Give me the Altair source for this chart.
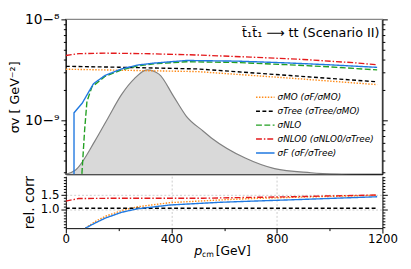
import altair as alt
import pandas as pd

# ---------------- data ----------------
series_names = ["σMO (σF/σMO)", "σTree (σTree/σMO)", "σNLO", "σNLO0 (σNLO0/σTree)", "σF (σF/σTree)"]
series_colors = ["#ff8c1a", "#000000", "#22a022", "#e41a1c", "#1f78e0"]
series_dashes = [[1.5, 1.5], [4, 2.5], [6, 2.5], [6, 2, 1.5, 2], [1, 0]]

p_mo = [0, 200, 500, 850, 1180]
v_mo = [3.20e-9, 3.13e-9, 3.03e-9, 2.61e-9, 2.25e-9]
p_tree = [0, 200, 500, 850, 1180]
v_tree = [3.42e-9, 3.35e-9, 3.22e-9, 2.77e-9, 2.40e-9]
p_nlo = [57, 71, 80, 99, 149, 211, 272, 334, 458, 650, 836, 1000, 1180]
v_nlo = [2.0e-10, 7.8e-10, 1.53e-9, 2.14e-9, 2.72e-9, 3.15e-9, 3.45e-9, 3.62e-9, 3.80e-9, 3.73e-9, 3.55e-9, 3.38e-9, 3.15e-9]
p_nlo0 = [0, 50, 150, 300, 500, 700, 900, 1100, 1180]
v_nlo0 = [4.38e-9, 4.57e-9, 4.62e-9, 4.57e-9, 4.43e-9, 4.22e-9, 4.00e-9, 3.70e-9, 3.54e-9]
p_f = [31, 31, 62, 87, 105, 149, 211, 272, 334, 458, 650, 836, 1000, 1180]
v_f = [2.0e-10, 1.18e-9, 1.47e-9, 1.91e-9, 2.30e-9, 2.78e-9, 3.22e-9, 3.52e-9, 3.68e-9, 3.91e-9, 3.85e-9, 3.70e-9, 3.54e-9, 3.34e-9]

p_dist = [0, 37, 111, 160, 211, 260, 308, 353, 409, 457, 520, 557, 680, 791, 929, 1200]
v_dist = [2.9e-10, 3.2e-10, 6.25e-10, 1.05e-9, 1.79e-9, 2.58e-9, 3.15e-9, 2.86e-9, 1.71e-9, 1.09e-9,
          7.8e-10, 6.5e-10, 4.2e-10, 3.3e-10, 3.0e-10, 2.8e-10]
dist_floor = 1e-10

r_p_mo = [74, 110, 149, 211, 272, 396, 582, 705, 900, 1180]
r_mo = [0.35, 0.57, 0.75, 0.95, 1.08, 1.22, 1.31, 1.36, 1.41, 1.47]
r_p_tree = [0, 1180]
r_tree = [1.03, 1.03]
r_p_nlo0 = [0, 48, 200, 520, 850, 1180]
r_nlo0 = [1.27, 1.36, 1.37, 1.37, 1.42, 1.48]
r_p_f = [74, 110, 149, 211, 272, 396, 582, 705, 900, 1180]
r_f = [0.35, 0.52, 0.69, 0.89, 1.01, 1.14, 1.23, 1.27, 1.33, 1.42]

y_top_ticks = [3e-10, 4e-10, 5e-10, 6e-10, 7e-10, 8e-10, 9e-10, 1e-9, 2e-9, 3e-9, 4e-9,
               5e-9, 6e-9, 7e-9, 8e-9, 9e-9, 1e-8]
y_bot_ticks = [round(0.4 + 0.1 * i, 1) for i in range(18)]
x_ticks = list(range(0, 1201, 100))
annotation = "t̃₁t̃₁ ⟶ tt (Scenario II)"

# ---------------- tables ----------------
def long(ps, vs, name):
    return pd.DataFrame({"p": ps, "value": vs, "series": name, "idx": range(len(ps))})

top_df = pd.concat([long(p_mo, v_mo, series_names[0]), long(p_tree, v_tree, series_names[1]),
                    long(p_nlo, v_nlo, series_names[2]), long(p_nlo0, v_nlo0, series_names[3]),
                    long(p_f, v_f, series_names[4])])
dist_df = pd.DataFrame({"p": p_dist, "value": v_dist, "base": dist_floor})
bot_df = pd.concat([long(r_p_mo, r_mo, series_names[0]), long(r_p_tree, r_tree, series_names[1]),
                    long(r_p_nlo0, r_nlo0, series_names[3]), long(r_p_f, r_f, series_names[4])])

W, HT, HB = 323, 158, 53
FONT = "DejaVu Sans"

color_scale = alt.Scale(domain=series_names, range=series_colors)
dash_scale = alt.Scale(domain=series_names, range=series_dashes)
xscale = alt.Scale(domain=[0, 1200], nice=False, zero=False)
ytop_scale = alt.Scale(type="log", domain=[2.9e-10, 1e-8], nice=False)
ybot_scale = alt.Scale(domain=[0.35, 2.12], nice=False, zero=False)

decade = "abs(log(datum.value)/LN10 - round(log(datum.value)/LN10)) < 0.01"
sup = "replace(replace(replace(format(round(log(datum.value)/LN10),'d'),'-','⁻'),'8','⁸'),'9','⁹')"

legend = alt.Legend(title=None, orient="none", legendX=196, legendY=72, symbolType="M-1.4,0H1.4",
                    symbolSize=182, symbolStrokeWidth=1.4, labelFontSize=9, labelFontStyle="italic",
                    labelFont=FONT, rowPadding=1.2, labelOffset=5, symbolOffset=0, padding=0,
                    labelLimit=200)

x_top = alt.X("p:Q", scale=xscale, axis=alt.Axis(labels=False, ticks=False, title=None, grid=False,
                                                domainColor="black", domainWidth=1.2))

top_axis_left = alt.Axis(values=y_top_ticks, labelExpr=f"{decade} ? '10' + {sup} : ''",
                         tickSize={"condition": {"test": decade, "value": 5}, "value": 2.5},
                         tickColor="black", domainColor="black", grid=False, labelFontSize=14,
                         labelFont=FONT, labelColor="black", labelPadding=2,
                         title="σv [ GeV⁻²]", titleFont=FONT, titleFontSize=13,
                         titleFontWeight="normal", titleColor="black", titlePadding=3)
top_axis_right = alt.Axis(orient="right", values=y_top_ticks, labels=False,
                          tickSize={"condition": {"test": decade, "value": 5}, "value": 2.5},
                          tickColor="black", domainColor="black", grid=False, title=None)

area = alt.Chart(dist_df).mark_area(clip=True, color="#d9d9d9", opacity=1, interpolate="monotone").encode(
    x=x_top, y=alt.Y("value:Q", scale=ytop_scale, axis=top_axis_left), y2="base:Q")
area_line = alt.Chart(dist_df).mark_line(clip=True, color="#808080", strokeWidth=1.2,
                                         interpolate="monotone").encode(
    x=alt.X("p:Q", scale=xscale), y=alt.Y("value:Q", scale=ytop_scale, axis=top_axis_right))
lines_top = alt.Chart(top_df).mark_line(clip=True, strokeWidth=1.4).encode(
    x=alt.X("p:Q", scale=xscale),
    y=alt.Y("value:Q", scale=ytop_scale, axis=None),
    color=alt.Color("series:N", scale=color_scale, legend=legend),
    strokeDash=alt.StrokeDash("series:N", scale=dash_scale, legend=legend),
    order="idx:Q")
ann = alt.Chart(pd.DataFrame({"t": [annotation]})).mark_text(
    align="right", baseline="alphabetic", fontSize=13, font=FONT, color="black").encode(
    x=alt.value(320), y=alt.value(18), text="t:N")

top = alt.layer(area, area_line, lines_top, ann).resolve_axis(y="independent").properties(
    width=W, height=HT, view=alt.ViewBackground(stroke="#888888", strokeWidth=1.5))

# ---------------- bottom panel ----------------
x_bot_axis = alt.Axis(values=x_ticks, labelExpr="datum.value % 400 == 0 ? datum.label : ''",
                      tickSize={"condition": {"test": "datum.value % 400 == 0", "value": 5}, "value": 2.5},
                      tickColor="black", domainColor="black", labelFontSize=12, labelFont=FONT,
                      labelColor="black", labelPadding=1, labelFlush=False, format="d",
                      grid=True, gridDash=[2, 2], gridColor="#cccccc",
                      gridOpacity={"condition": {"test": "datum.value == 400 || datum.value == 800", "value": 1}, "value": 0},
                      title=None)
ymaj = "abs(datum.value - 1.0) < 0.01 || abs(datum.value - 1.5) < 0.01"
y_bot_axis = alt.Axis(values=y_bot_ticks, labelExpr=f"{ymaj} ? format(datum.value, '.1f') : ''",
                      tickSize={"condition": {"test": ymaj, "value": 5}, "value": 2.5},
                      tickColor="black", domainColor="black", labelFontSize=12, labelFont=FONT,
                      labelColor="black", labelPadding=2,
                      grid=True, gridDash=[2, 2], gridColor="#cccccc",
                      gridOpacity={"condition": {"test": ymaj, "value": 1}, "value": 0},
                      title="rel. corr", titleFont=FONT, titleFontSize=14, titleFontWeight="normal",
                      titleColor="black", titlePadding=4)
y_bot_right = alt.Axis(orient="right", values=y_bot_ticks, labels=False,
                       tickSize={"condition": {"test": ymaj, "value": 5}, "value": 2.5},
                       tickColor="black", domainColor="black", grid=False, title=None)

lines_bot = alt.Chart(bot_df).mark_line(clip=True, strokeWidth=1.4).encode(
    x=alt.X("p:Q", scale=xscale, axis=x_bot_axis),
    y=alt.Y("value:Q", scale=ybot_scale, axis=y_bot_axis),
    color=alt.Color("series:N", scale=color_scale, legend=None),
    strokeDash=alt.StrokeDash("series:N", scale=dash_scale, legend=None),
    order="idx:Q")
right_bot = alt.Chart(pd.DataFrame({"p": [0], "value": [1.0]})).mark_point(opacity=0).encode(
    x=alt.X("p:Q", scale=xscale), y=alt.Y("value:Q", scale=ybot_scale, axis=y_bot_right))

xt_p = alt.Chart(pd.DataFrame({"t": ["p"]})).mark_text(
    align="left", baseline="alphabetic", fontSize=13, fontStyle="italic", font=FONT, color="black").encode(
    x=alt.value(131), y=alt.value(80), text="t:N")
xt_cm = alt.Chart(pd.DataFrame({"t": ["cm"]})).mark_text(
    align="left", baseline="alphabetic", fontSize=8, font=FONT, color="black").encode(
    x=alt.value(139), y=alt.value(82), text="t:N")
xt_gev = alt.Chart(pd.DataFrame({"t": ["[GeV]"]})).mark_text(
    align="left", baseline="alphabetic", fontSize=12.5, font=FONT, color="black").encode(
    x=alt.value(153), y=alt.value(80), text="t:N")

bottom = alt.layer(lines_bot, right_bot, xt_p, xt_cm, xt_gev).resolve_axis(y="independent").properties(
    width=W, height=HB, view=alt.ViewBackground(stroke=None))

chart = alt.vconcat(top, bottom, spacing=0).properties(
    padding={"left": 0, "top": 1, "right": 5, "bottom": 5}).configure_view(stroke=None)

chart.save("out.html", embed_options={"renderer": "svg", "actions": False})
